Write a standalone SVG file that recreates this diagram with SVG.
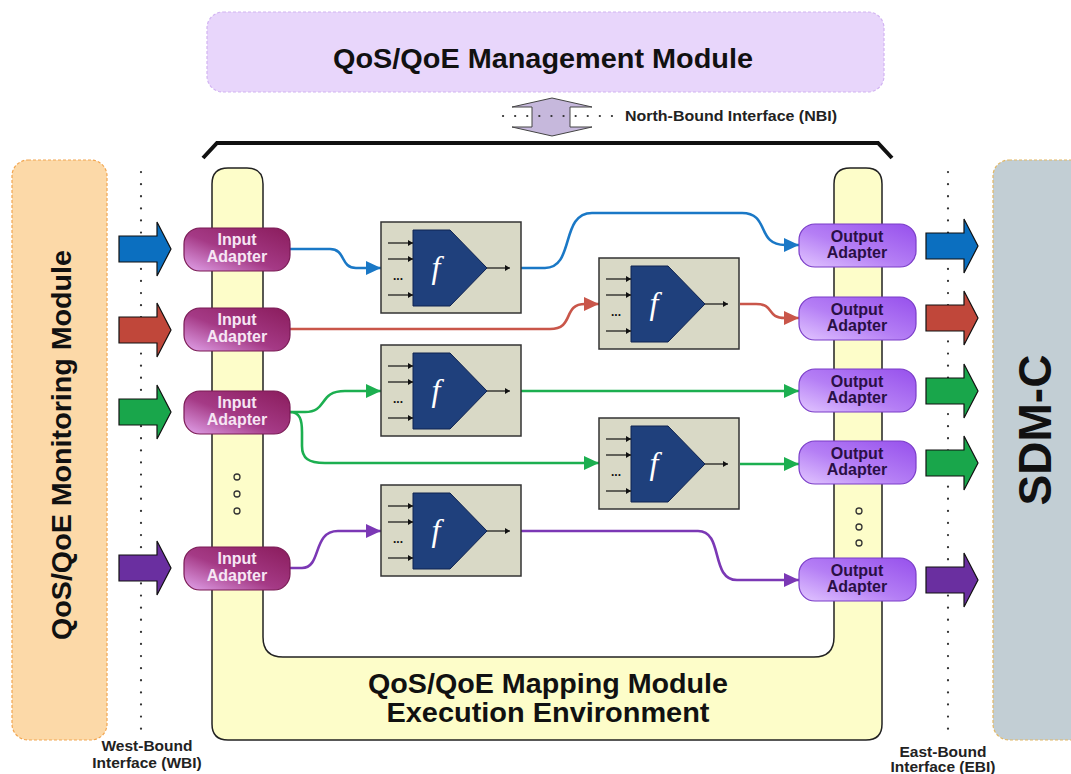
<svg xmlns="http://www.w3.org/2000/svg" xmlns:xlink="http://www.w3.org/1999/xlink" width="1071" height="774" viewBox="0 0 1071 774">
<defs>
<style>
.t{font-family:"Liberation Sans",Arial,sans-serif;font-weight:bold;}
.big{font-size:28px;fill:#111;text-anchor:middle;}
.small{font-size:15.5px;fill:#222;text-anchor:middle;}
.ia{fill:url(#gIn);stroke:#7a1a55;stroke-width:1.2;}
.oa{fill:url(#gOut);stroke:#7a3cc8;stroke-width:1.2;}
.iat{font-size:16px;fill:#f6e6f4;text-anchor:middle;}
.oat{font-size:16px;fill:#2a0f45;text-anchor:middle;}
.dots{stroke:#333;stroke-width:2.2;stroke-linecap:round;stroke-dasharray:0.1 12;fill:none;}
.c{fill:none;stroke-width:2.6;}
.blue{stroke:#1a78c6;}
.red{stroke:#c9564a;}
.green{stroke:#1caf50;}
.purple{stroke:#7b38b5;}
.ell{fill:none;stroke:#333;stroke-width:1.3;}
</style>
<linearGradient id="gIn" x1="1" y1="0" x2="0" y2="1">
<stop offset="0" stop-color="#8a1c5c"/>
<stop offset="0.55" stop-color="#a53a86"/>
<stop offset="1" stop-color="#e2a4ec"/>
</linearGradient>
<linearGradient id="gOut" x1="1" y1="0" x2="0" y2="1">
<stop offset="0" stop-color="#9650ec"/>
<stop offset="0.55" stop-color="#b57ff5"/>
<stop offset="1" stop-color="#e2c6ff"/>
</linearGradient>
<marker id="mBlue" markerUnits="userSpaceOnUse" markerWidth="16" markerHeight="14" refX="15" refY="7" orient="auto"><path d="M0,0 L15,7 L0,14 Z" fill="#1a78c6"/></marker>
<marker id="mRed" markerUnits="userSpaceOnUse" markerWidth="16" markerHeight="14" refX="15" refY="7" orient="auto"><path d="M0,0 L15,7 L0,14 Z" fill="#c9564a"/></marker>
<marker id="mGreen" markerUnits="userSpaceOnUse" markerWidth="16" markerHeight="14" refX="15" refY="7" orient="auto"><path d="M0,0 L15,7 L0,14 Z" fill="#1caf50"/></marker>
<marker id="mPurple" markerUnits="userSpaceOnUse" markerWidth="16" markerHeight="14" refX="15" refY="7" orient="auto"><path d="M0,0 L15,7 L0,14 Z" fill="#7b38b5"/></marker>
<marker id="mSmall" markerUnits="userSpaceOnUse" markerWidth="6" markerHeight="6" refX="5" refY="3" orient="auto"><path d="M0,0 L5,3 L0,6 Z" fill="#111"/></marker>
<path id="barrow" d="M0,-13 L38,-13 L38,-27 L52,0 L38,27 L38,13 L0,13 Z" stroke="#111" stroke-width="1.2"/>
<g id="fb">
<rect x="0" y="0" width="140" height="91" fill="#d9d9c6" stroke="#333" stroke-width="1.5"/>
<polygon points="32,8 69,8 106,46 69,84 32,84" fill="#1f407c" stroke="#0e2250" stroke-width="1"/>
<g stroke="#111" stroke-width="1.2" fill="none">
<line x1="7" y1="21" x2="32" y2="21" marker-end="url(#mSmall)"/>
<line x1="7" y1="37" x2="32" y2="37" marker-end="url(#mSmall)"/>
<line x1="7" y1="73" x2="32" y2="73" marker-end="url(#mSmall)"/>
<line x1="106" y1="46" x2="129" y2="46" marker-end="url(#mSmall)"/>
</g>
<text x="17" y="58" font-family="Liberation Sans, sans-serif" font-weight="bold" font-size="12" fill="#111" text-anchor="middle">...</text>
<text x="55" y="56" font-family="Liberation Serif, serif" font-style="italic" font-size="32" fill="#fff" text-anchor="middle">f</text>
</g>
</defs>

<rect width="1071" height="774" fill="#ffffff"/>

<g id="management">
<rect x="207" y="12" width="677" height="80" rx="16" fill="#e8d6fb" stroke="#d2b4f2" stroke-width="1.2" stroke-dasharray="3 2"/>
<text class="t big" x="543" y="68" textLength="420" lengthAdjust="spacingAndGlyphs">QoS/QoE Management Module</text>
</g>

<g id="nbi">
<polygon points="552,98 592,107 570,107 570,127 592,127 552,136 512,127 532,127 532,107 512,107" fill="#c6b8dc" stroke="#444" stroke-width="1"/>
<line x1="503" y1="116" x2="618" y2="116" class="dots"/>
<text class="t" x="625" y="121" font-size="15" fill="#222" textLength="212" lengthAdjust="spacingAndGlyphs">North-Bound Interface (NBI)</text>
</g>

<g id="bracket">
<path d="M203,158 L217,143 L878,143 L892,158" fill="none" stroke="#111" stroke-width="4"/>
</g>

<g id="monitoring">
<rect x="12" y="160" width="95" height="580" rx="16" fill="#fcd9a8" stroke="#f2a650" stroke-width="1.2" stroke-dasharray="3 2"/>
<text class="t big" transform="translate(71,445) rotate(-90)" x="0" y="0" textLength="390" lengthAdjust="spacingAndGlyphs">QoS/QoE Monitoring Module</text>
</g>

<g id="sdmc">
<rect x="993" y="160" width="100" height="580" rx="16" fill="#c2ced4" stroke="#e2b865" stroke-width="1.2" stroke-dasharray="3 2"/>
<text class="t" transform="translate(1051,430) rotate(-90)" x="0" y="0" font-size="46" fill="#111" text-anchor="middle">SDM-C</text>
</g>

<g id="wbi">
<line x1="141" y1="172" x2="141" y2="737" class="dots"/>
<text class="t small" x="147" y="751">West-Bound</text>
<text class="t small" x="147" y="768">Interface (WBI)</text>
</g>
<g id="ebi">
<line x1="948" y1="172" x2="948" y2="737" class="dots"/>
<text class="t small" x="943" y="757">East-Bound</text>
<text class="t small" x="943" y="772">Interface (EBI)</text>
</g>

<g id="mapping">
<path d="M212,184 Q212,168 228,168 L247,168 Q263,168 263,184 L263,637 Q263,657 283,657 L814,657 Q834,657 834,637 L834,184 Q834,168 850,168 L866,168 Q882,168 882,184 L882,724 Q882,740 866,740 L228,740 Q212,740 212,724 Z" fill="#fdfdc9" stroke="#222" stroke-width="1.5"/>
<text class="t big" x="548" y="693" font-size="25.5" textLength="360" lengthAdjust="spacingAndGlyphs">QoS/QoE Mapping Module</text>
<text class="t big" x="548" y="722" font-size="25.5" textLength="323" lengthAdjust="spacingAndGlyphs">Execution Environment</text>
<circle cx="237" cy="477" r="3" class="ell"/>
<circle cx="237" cy="494" r="3" class="ell"/>
<circle cx="237" cy="511" r="3" class="ell"/>
<circle cx="859" cy="511" r="3" class="ell"/>
<circle cx="859" cy="527" r="3" class="ell"/>
<circle cx="859" cy="543" r="3" class="ell"/>
</g>

<g id="in-arrows">
<use xlink:href="#barrow" href="#barrow" transform="translate(119,249)" fill="#0b6fc0"/>
<use xlink:href="#barrow" href="#barrow" transform="translate(119,330)" fill="#c0473a"/>
<use xlink:href="#barrow" href="#barrow" transform="translate(119,412)" fill="#19a64b"/>
<use xlink:href="#barrow" href="#barrow" transform="translate(119,568)" fill="#6a2fa0"/>
</g>
<g id="out-arrows">
<use xlink:href="#barrow" href="#barrow" transform="translate(926,246)" fill="#0b6fc0"/>
<use xlink:href="#barrow" href="#barrow" transform="translate(926,318)" fill="#c0473a"/>
<use xlink:href="#barrow" href="#barrow" transform="translate(926,391)" fill="#19a64b"/>
<use xlink:href="#barrow" href="#barrow" transform="translate(926,463)" fill="#19a64b"/>
<use xlink:href="#barrow" href="#barrow" transform="translate(926,580)" fill="#6a2fa0"/>
</g>

<g id="connectors">
<path class="c blue" d="M290,249 L330,249 C346,249 340,268 356,268 L381,268" marker-end="url(#mBlue)"/>
<path class="c blue" d="M521,268 L545,268 C575,268 560,213 592,213 L742,213 C770,213 756,245 785,245 L799,245" marker-end="url(#mBlue)"/>
<path class="c red" d="M290,329 L550,329 C575,329 562,304 585,304 L599,304" marker-end="url(#mRed)"/>
<path class="c red" d="M740,304 L756,304 C775,304 766,318 785,318 L799,318" marker-end="url(#mRed)"/>
<path class="c green" d="M290,412 L305,412 C328,412 318,391 345,391 L381,391" marker-end="url(#mGreen)"/>
<path class="c green" d="M521,391 L799,391" marker-end="url(#mGreen)"/>
<path class="c green" d="M290,412 C300,412 302,420 302,432 L302,446 C302,458 308,463 325,463 L599,463" marker-end="url(#mGreen)"/>
<path class="c green" d="M740,464 L799,464" marker-end="url(#mGreen)"/>
<path class="c purple" d="M290,568 L302,568 C322,568 312,531 338,531 L381,531" marker-end="url(#mPurple)"/>
<path class="c purple" d="M521,531 L698,531 C724,531 710,580 737,580 L799,580" marker-end="url(#mPurple)"/>
</g>

<g id="func1" transform="translate(381,222)"><use xlink:href="#fb" href="#fb"/></g>
<g id="func2" transform="translate(599,258)"><use xlink:href="#fb" href="#fb"/></g>
<g id="func3" transform="translate(381,345)"><use xlink:href="#fb" href="#fb"/></g>
<g id="func4" transform="translate(599,418)"><use xlink:href="#fb" href="#fb"/></g>
<g id="func5" transform="translate(381,485)"><use xlink:href="#fb" href="#fb"/></g>

<g id="in1"><rect class="ia" x="184" y="228" width="106" height="43" rx="16"/><text class="t iat" x="237" y="245">Input</text><text class="t iat" x="237" y="262">Adapter</text></g>
<g id="in2"><rect class="ia" x="184" y="308" width="106" height="43" rx="16"/><text class="t iat" x="237" y="325">Input</text><text class="t iat" x="237" y="342">Adapter</text></g>
<g id="in3"><rect class="ia" x="184" y="391" width="106" height="43" rx="16"/><text class="t iat" x="237" y="408">Input</text><text class="t iat" x="237" y="425">Adapter</text></g>
<g id="in5"><rect class="ia" x="184" y="547" width="106" height="43" rx="16"/><text class="t iat" x="237" y="564">Input</text><text class="t iat" x="237" y="581">Adapter</text></g>

<g id="out1"><rect class="oa" x="799" y="224" width="117" height="43" rx="16"/><text class="t oat" x="857" y="242">Output</text><text class="t oat" x="857" y="258">Adapter</text></g>
<g id="out2"><rect class="oa" x="799" y="297" width="117" height="43" rx="16"/><text class="t oat" x="857" y="315">Output</text><text class="t oat" x="857" y="331">Adapter</text></g>
<g id="out3"><rect class="oa" x="799" y="369" width="117" height="43" rx="16"/><text class="t oat" x="857" y="387">Output</text><text class="t oat" x="857" y="403">Adapter</text></g>
<g id="out4"><rect class="oa" x="799" y="441" width="117" height="43" rx="16"/><text class="t oat" x="857" y="459">Output</text><text class="t oat" x="857" y="475">Adapter</text></g>
<g id="out5"><rect class="oa" x="799" y="558" width="117" height="43" rx="16"/><text class="t oat" x="857" y="576">Output</text><text class="t oat" x="857" y="592">Adapter</text></g>
</svg>
